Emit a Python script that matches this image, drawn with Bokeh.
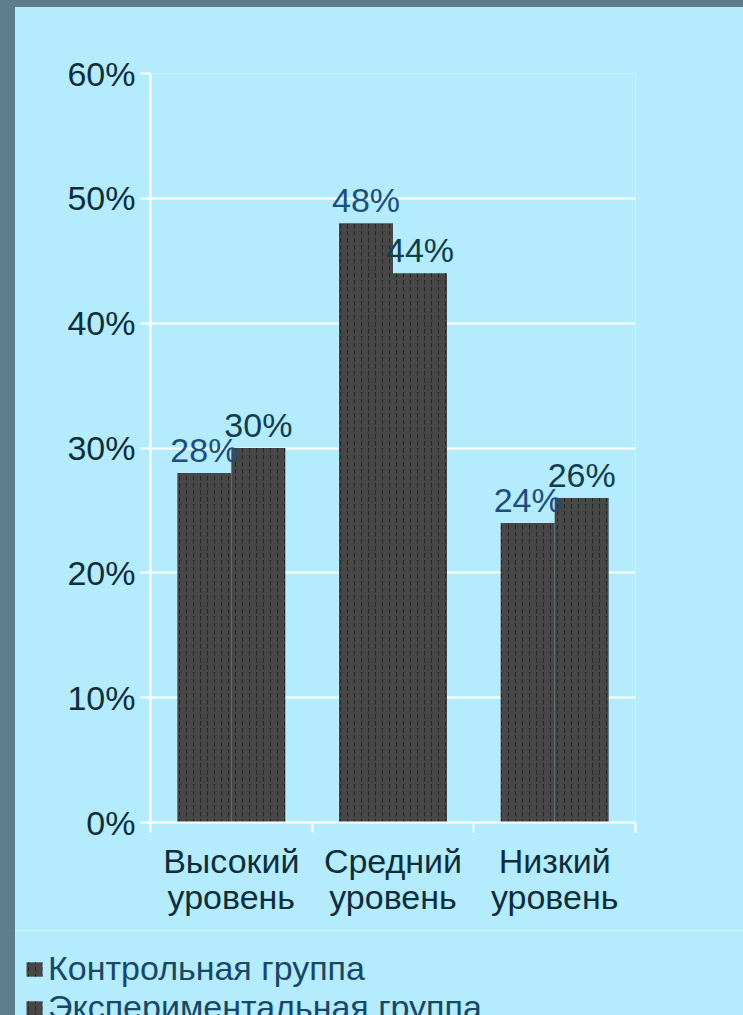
import numpy as np
from bokeh.plotting import figure
from bokeh.layouts import column
from bokeh.models import Range1d, FixedTicker, NumeralTickFormatter, Legend, LegendItem, InlineStyleSheet
from bokeh.core.properties import value
from bokeh.embed import file_html
from bokeh.resources import INLINE

# ---- data ----
categories = ["Высокий\nуровень", "Средний\nуровень", "Низкий\nуровень"]
series_names = ["Контрольная группа", "Экспериментальная группа"]
control = [0.28, 0.48, 0.24]
experimental = [0.30, 0.44, 0.26]
y_ticks = [0.0, 0.1, 0.2, 0.3, 0.4, 0.5, 0.6]

# ---- styles ----
BG = "#b4ecfd"
FRAME = "#5e7d8c"
BAR = "#474747"
TICK_TXT = "#0e2e3b"
CTRL_TXT = "#1d4f7a"
EXP_TXT = "#113e4c"
LEG_TXT = "#184866"
FONT = "Liberation Sans"

strip_left = (":host::before{content:'';position:absolute;left:0;top:0;width:15px;height:100%;"
              "background:" + FRAME + ";z-index:5;pointer-events:none}")
strip_top = (":host::after{content:'';position:absolute;left:0;top:0;width:100%;height:7px;"
             "background:" + FRAME + ";z-index:5;pointer-events:none}")

p = figure(width=743, height=930, output_backend="svg", toolbar_location=None,
           x_range=Range1d(0, len(categories)), y_range=Range1d(0, 0.6),
           min_border_left=150, min_border_right=108, min_border_top=73, min_border_bottom=108,
           background_fill_color=BG, border_fill_color=BG, outline_line_color=None)
p.frame_align = False
p.stylesheets = [InlineStyleSheet(css=strip_left + strip_top)]

centers = np.arange(len(categories)) + 0.5
off = 0.167
bw = 0.334

common = dict(fill_color=BAR, line_color=None, hatch_pattern="vertical_dash",
              hatch_color="#0a0a0a", hatch_alpha=0.55, hatch_scale=7, hatch_weight=1)
r1 = p.vbar(x=centers - off, top=control, width=bw, **common)
r2 = p.vbar(x=centers + off, top=experimental, width=bw, **common)

p.text(x=centers - off, y=control, text=[f"{round(v * 100)}%" for v in control],
       text_align="center", text_baseline="alphabetic", y_offset=-23,
       text_font=value(FONT), text_font_size="34px", text_color=CTRL_TXT)
p.text(x=centers + off, y=experimental, text=[f"{round(v * 100)}%" for v in experimental],
       text_align="center", text_baseline="alphabetic", y_offset=-23,
       text_font=value(FONT), text_font_size="34px", text_color=EXP_TXT)

# x axis
xa = p.xaxis[0]
xa.ticker = FixedTicker(ticks=list(centers), minor_ticks=list(range(len(categories) + 1)))
xa.major_label_overrides = {float(c): lab for c, lab in zip(centers, categories)}
xa.major_tick_out = 0
xa.major_tick_in = 0
xa.minor_tick_out = 10
xa.minor_tick_in = 0
xa.minor_tick_line_color = "white"
xa.minor_tick_line_width = 2
xa.axis_line_color = "white"
xa.axis_line_width = 2
xa.major_label_standoff = 9
xa.major_label_text_font = FONT
xa.major_label_text_font_size = "34px"
xa.major_label_text_line_height = 0.95
xa.major_label_text_color = TICK_TXT

# y axis
ya = p.yaxis[0]
ya.ticker = FixedTicker(ticks=y_ticks, minor_ticks=[])
ya.formatter = NumeralTickFormatter(format="0%")
ya.major_tick_out = 10
ya.major_tick_in = 0
ya.major_tick_line_color = "white"
ya.major_tick_line_width = 2
ya.minor_tick_line_color = None
ya.axis_line_color = "white"
ya.axis_line_width = 2
ya.major_label_standoff = 5
ya.major_label_text_font = FONT
ya.major_label_text_font_size = "34px"
ya.major_label_text_color = TICK_TXT

p.xgrid.grid_line_color = None
p.ygrid.grid_line_color = "white"
p.ygrid.grid_line_width = 2
p.ygrid.ticker = FixedTicker(ticks=y_ticks)

# ---- legend strip below the chart (same bars, kept out of view) ----
lg = figure(width=743, height=85, output_backend="svg", toolbar_location=None,
            x_axis_location=None, y_axis_location=None,
            x_range=Range1d(0, len(categories)), y_range=Range1d(5, 6),
            min_border=0, background_fill_color=BG, border_fill_color=BG,
            outline_line_color=None)
lg.frame_align = False
lg.stylesheets = [InlineStyleSheet(css=strip_left)]
lg.xgrid.grid_line_color = None
lg.ygrid.grid_line_color = None
l1 = lg.vbar(x=centers - off, top=control, width=bw, **common)
l2 = lg.vbar(x=centers + off, top=experimental, width=bw, **common)

legend = Legend(items=[LegendItem(label=series_names[0], renderers=[l1]),
                       LegendItem(label=series_names[1], renderers=[l2])],
                location=(24, -12), orientation="vertical",
                label_text_font=FONT, label_text_font_size="34px", label_text_color=LEG_TXT,
                glyph_width=20, glyph_height=18, label_standoff=4, spacing=0,
                label_height=34, padding=0, margin=0,
                border_line_alpha=0, background_fill_alpha=0)
lg.add_layout(legend)

layout = column(p, lg, spacing=0)
open("out.html", "w").write(file_html(layout, INLINE))
